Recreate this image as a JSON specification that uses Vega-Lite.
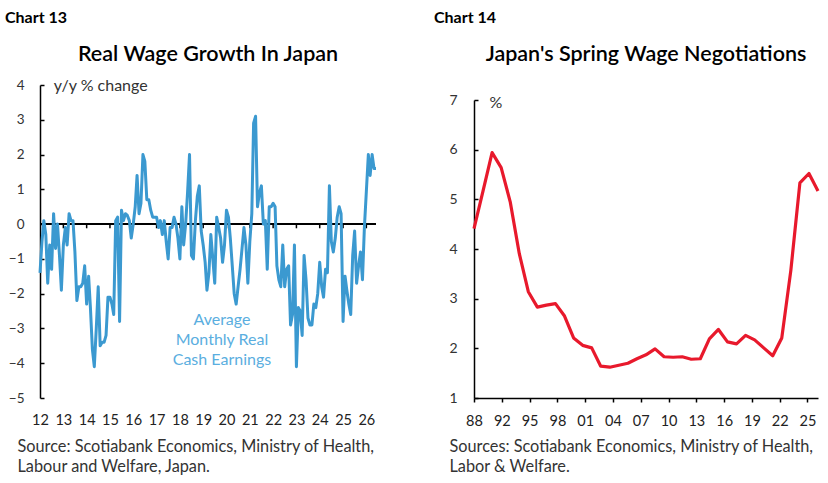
{
  "$schema": "https://vega.github.io/schema/vega-lite/v6.json",
  "padding": {"left": 5, "top": 9, "right": 5, "bottom": 5},
  "spacing": 56,
  "datasets": {
    "wages": [
      {"date": "2012-01", "v": -1.4}, {"date": "2012-02", "v": -0.5}, {"date": "2012-03", "v": 0.1}, {"date": "2012-04", "v": -0.3},
      {"date": "2012-05", "v": -1.7}, {"date": "2012-06", "v": -0.6}, {"date": "2012-07", "v": -1.3}, {"date": "2012-08", "v": 0.3},
      {"date": "2012-09", "v": -0.7}, {"date": "2012-10", "v": 0.0}, {"date": "2012-11", "v": -0.9}, {"date": "2012-12", "v": -1.9},
      {"date": "2013-01", "v": -0.6}, {"date": "2013-02", "v": -0.1}, {"date": "2013-03", "v": -0.6}, {"date": "2013-04", "v": 0.3},
      {"date": "2013-05", "v": 0.1}, {"date": "2013-06", "v": 0.1}, {"date": "2013-07", "v": -0.8}, {"date": "2013-08", "v": -2.2},
      {"date": "2013-09", "v": -1.8}, {"date": "2013-10", "v": -1.8}, {"date": "2013-11", "v": -1.7}, {"date": "2013-12", "v": -1.2},
      {"date": "2014-01", "v": -2.3}, {"date": "2014-02", "v": -1.5}, {"date": "2014-03", "v": -2.4}, {"date": "2014-04", "v": -3.6},
      {"date": "2014-05", "v": -4.1}, {"date": "2014-06", "v": -3.0}, {"date": "2014-07", "v": -1.8}, {"date": "2014-08", "v": -3.5},
      {"date": "2014-09", "v": -3.4}, {"date": "2014-10", "v": -3.4}, {"date": "2014-11", "v": -3.2}, {"date": "2014-12", "v": -2.1},
      {"date": "2015-01", "v": -2.1}, {"date": "2015-02", "v": -2.3}, {"date": "2015-03", "v": -2.6}, {"date": "2015-04", "v": 0.1},
      {"date": "2015-05", "v": 0.2}, {"date": "2015-06", "v": -2.8}, {"date": "2015-07", "v": 0.4}, {"date": "2015-08", "v": 0.1},
      {"date": "2015-09", "v": 0.3}, {"date": "2015-10", "v": 0.25}, {"date": "2015-11", "v": 0.1}, {"date": "2015-12", "v": -0.4},
      {"date": "2016-01", "v": 0.0}, {"date": "2016-02", "v": 0.5}, {"date": "2016-03", "v": 1.4}, {"date": "2016-04", "v": 0.3},
      {"date": "2016-05", "v": 0.6}, {"date": "2016-06", "v": 2.0}, {"date": "2016-07", "v": 1.8}, {"date": "2016-08", "v": 0.7},
      {"date": "2016-09", "v": 0.7}, {"date": "2016-10", "v": 0.4}, {"date": "2016-11", "v": 0.2}, {"date": "2016-12", "v": 0.2},
      {"date": "2017-01", "v": 0.2}, {"date": "2017-02", "v": -0.1}, {"date": "2017-03", "v": 0.1}, {"date": "2017-04", "v": -0.3},
      {"date": "2017-05", "v": 0.1}, {"date": "2017-06", "v": -0.5}, {"date": "2017-07", "v": -1.0}, {"date": "2017-08", "v": -0.1},
      {"date": "2017-09", "v": -0.1}, {"date": "2017-10", "v": 0.2}, {"date": "2017-11", "v": 0.0}, {"date": "2017-12", "v": -0.4},
      {"date": "2018-01", "v": -1.0}, {"date": "2018-02", "v": 0.5}, {"date": "2018-03", "v": -0.6}, {"date": "2018-04", "v": 0.0},
      {"date": "2018-05", "v": 0.9}, {"date": "2018-06", "v": 2.0}, {"date": "2018-07", "v": -0.9}, {"date": "2018-08", "v": -1.0},
      {"date": "2018-09", "v": 0.1}, {"date": "2018-10", "v": 0.8}, {"date": "2018-11", "v": 1.1}, {"date": "2018-12", "v": -0.2},
      {"date": "2019-01", "v": -0.6}, {"date": "2019-02", "v": -1.1}, {"date": "2019-03", "v": -1.9}, {"date": "2019-04", "v": -1.4},
      {"date": "2019-05", "v": -0.3}, {"date": "2019-06", "v": -1.0}, {"date": "2019-07", "v": -1.7}, {"date": "2019-08", "v": 0.2},
      {"date": "2019-09", "v": -0.1}, {"date": "2019-10", "v": -0.4}, {"date": "2019-11", "v": -1.1}, {"date": "2019-12", "v": -0.6},
      {"date": "2020-01", "v": 0.4}, {"date": "2020-02", "v": 0.2}, {"date": "2020-03", "v": -0.4}, {"date": "2020-04", "v": -1.2},
      {"date": "2020-05", "v": -2.0}, {"date": "2020-06", "v": -2.3}, {"date": "2020-07", "v": -1.8}, {"date": "2020-08", "v": -1.3},
      {"date": "2020-09", "v": -0.7}, {"date": "2020-10", "v": -0.1}, {"date": "2020-11", "v": -0.6}, {"date": "2020-12", "v": -1.7},
      {"date": "2021-01", "v": -0.5}, {"date": "2021-02", "v": 0.3}, {"date": "2021-03", "v": 2.9}, {"date": "2021-04", "v": 3.1},
      {"date": "2021-05", "v": 0.5}, {"date": "2021-06", "v": 0.9}, {"date": "2021-07", "v": 1.1}, {"date": "2021-08", "v": 0.0},
      {"date": "2021-09", "v": 0.1}, {"date": "2021-10", "v": -1.3}, {"date": "2021-11", "v": 0.5}, {"date": "2021-12", "v": 0.5},
      {"date": "2022-01", "v": 0.6}, {"date": "2022-02", "v": 0.5}, {"date": "2022-03", "v": -1.2}, {"date": "2022-04", "v": -1.6},
      {"date": "2022-05", "v": -1.8}, {"date": "2022-06", "v": -0.6}, {"date": "2022-07", "v": -1.8}, {"date": "2022-08", "v": -1.3},
      {"date": "2022-09", "v": -1.2}, {"date": "2022-10", "v": -2.9}, {"date": "2022-11", "v": -2.6}, {"date": "2022-12", "v": -0.6},
      {"date": "2023-01", "v": -4.1}, {"date": "2023-02", "v": -2.4}, {"date": "2023-03", "v": -2.5}, {"date": "2023-04", "v": -3.2},
      {"date": "2023-05", "v": -0.9}, {"date": "2023-06", "v": -1.6}, {"date": "2023-07", "v": -2.7}, {"date": "2023-08", "v": -2.9},
      {"date": "2023-09", "v": -2.9}, {"date": "2023-10", "v": -2.3}, {"date": "2023-11", "v": -2.4}, {"date": "2023-12", "v": -2.0},
      {"date": "2024-01", "v": -1.1}, {"date": "2024-02", "v": -1.8}, {"date": "2024-03", "v": -2.1}, {"date": "2024-04", "v": -1.3},
      {"date": "2024-05", "v": -1.4}, {"date": "2024-06", "v": 1.1}, {"date": "2024-07", "v": -0.5}, {"date": "2024-08", "v": -0.8},
      {"date": "2024-09", "v": -0.4}, {"date": "2024-10", "v": 0.2}, {"date": "2024-11", "v": 0.5}, {"date": "2024-12", "v": 0.3},
      {"date": "2025-01", "v": -2.8}, {"date": "2025-02", "v": -1.5}, {"date": "2025-03", "v": -1.9}, {"date": "2025-04", "v": -2.3},
      {"date": "2025-05", "v": -2.6}, {"date": "2025-06", "v": -0.9}, {"date": "2025-07", "v": -0.2}, {"date": "2025-08", "v": -1.7},
      {"date": "2025-09", "v": -1.2}, {"date": "2025-10", "v": -0.8}, {"date": "2025-11", "v": -1.6}, {"date": "2025-12", "v": -0.1},
      {"date": "2026-01", "v": 0.95}, {"date": "2026-02", "v": 2.0}, {"date": "2026-03", "v": 1.4}, {"date": "2026-04", "v": 2.0},
      {"date": "2026-05", "v": 1.6}, {"date": "2026-06", "v": 1.6}
    ],
    "yearTicks": [
      {"date": "2013-01"}, {"date": "2014-01"}, {"date": "2015-01"}, {"date": "2016-01"}, {"date": "2017-01"},
      {"date": "2018-01"}, {"date": "2019-01"}, {"date": "2020-01"}, {"date": "2021-01"}, {"date": "2022-01"},
      {"date": "2023-01"}, {"date": "2024-01"}, {"date": "2025-01"}, {"date": "2026-01"}
    ],
    "shunto": [
      {"year": 1988, "pct": 4.41}, {"year": 1989, "pct": 5.17}, {"year": 1990, "pct": 5.94}, {"year": 1991, "pct": 5.64},
      {"year": 1992, "pct": 4.95}, {"year": 1993, "pct": 3.91}, {"year": 1994, "pct": 3.14}, {"year": 1995, "pct": 2.83},
      {"year": 1996, "pct": 2.87}, {"year": 1997, "pct": 2.9}, {"year": 1998, "pct": 2.65}, {"year": 1999, "pct": 2.21},
      {"year": 2000, "pct": 2.06}, {"year": 2001, "pct": 2.01}, {"year": 2002, "pct": 1.64}, {"year": 2003, "pct": 1.62},
      {"year": 2004, "pct": 1.66}, {"year": 2005, "pct": 1.7}, {"year": 2006, "pct": 1.79}, {"year": 2007, "pct": 1.87},
      {"year": 2008, "pct": 1.99}, {"year": 2009, "pct": 1.83}, {"year": 2010, "pct": 1.82}, {"year": 2011, "pct": 1.83},
      {"year": 2012, "pct": 1.78}, {"year": 2013, "pct": 1.79}, {"year": 2014, "pct": 2.19}, {"year": 2015, "pct": 2.38},
      {"year": 2016, "pct": 2.13}, {"year": 2017, "pct": 2.09}, {"year": 2018, "pct": 2.26}, {"year": 2019, "pct": 2.17},
      {"year": 2020, "pct": 2.01}, {"year": 2021, "pct": 1.85}, {"year": 2022, "pct": 2.21}, {"year": 2023, "pct": 3.57},
      {"year": 2024, "pct": 5.33}, {"year": 2025, "pct": 5.52}, {"year": 2026, "pct": 5.17}
    ]
  },
  "hconcat": [
    {
      "title": {"text": "Chart 13", "anchor": "start", "frame": "group", "fontSize": 16, "fontWeight": "bold", "dx": -35, "offset": 18},
      "vconcat": [
        {
          "title": {"text": "Real Wage Growth In Japan", "fontSize": 21.5, "fontWeight": 600, "offset": 13},
          "width": 336,
          "height": 313,
          "layer": [
            {
              "data": {"values": [{}]},
              "mark": {"type": "rule", "color": "#000", "strokeWidth": 2},
              "encoding": {"y": {"datum": 0, "type": "quantitative"}}
            },
            {
              "data": {"name": "yearTicks"},
              "mark": {"type": "rule", "color": "#000", "strokeWidth": 1.5},
              "encoding": {
                "x": {"field": "date", "type": "temporal"},
                "y": {"datum": 0, "type": "quantitative"},
                "y2": {"datum": -0.12}
              }
            },
            {
              "data": {"name": "wages"},
              "mark": {"type": "line", "color": "#3b99d0", "strokeWidth": 3, "strokeJoin": "round"},
              "encoding": {
                "x": {
                  "field": "date", "type": "temporal",
                  "scale": {"type": "utc", "nice": false},
                  "axis": {
                    "title": ["Source: Scotiabank Economics, Ministry of Health,", "Labour and Welfare, Japan."],
                    "domain": false, "ticks": false, "format": "%y", "labelPadding": 15, "labelFontSize": 14.5, "labelColor": "#222",
                    "tickCount": {"interval": "year", "step": 1}, "labelOverlap": false, "labelFlush": false,
                    "titleX": -23, "titleY": 40, "titleAlign": "left", "titleAnchor": null, "titleBaseline": "top",
                    "titleFontSize": 16.3, "titleFontWeight": "normal", "titleColor": "#333", "titleLineHeight": 20
                  }
                },
                "y": {
                  "field": "v", "type": "quantitative",
                  "scale": {"domain": [-5, 4], "nice": false, "zero": false},
                  "axis": {
                    "values": [-5, -4, -3, -2, -1, 0, 1, 2, 3, 4], "tickCount": 20, "format": "d", "title": null,
                    "domainColor": "#000", "domainWidth": 1.5, "labelOverlap": false,
                    "tickSize": -4, "tickColor": "#000", "tickWidth": 1.5,
                    "labelPadding": 20, "labelFontSize": 13.5, "labelColor": "#333"
                  }
                }
              }
            },
            {
              "data": {"values": [{"date": "2019-10-22", "label": ["Average", "Monthly Real", "Cash Earnings"]}]},
              "mark": {"type": "text", "color": "#5aaee0", "fontSize": 16, "lineHeight": 20, "align": "center", "baseline": "middle"},
              "encoding": {
                "x": {"field": "date", "type": "temporal"},
                "y": {"datum": -2.75, "type": "quantitative"},
                "text": {"field": "label"}
              }
            },
            {
              "data": {"values": [{"date": "2012-08-05", "label": "y/y % change"}]},
              "mark": {"type": "text", "color": "#333", "fontSize": 16, "align": "left", "baseline": "middle"},
              "encoding": {
                "x": {"field": "date", "type": "temporal"},
                "y": {"datum": 3.97, "type": "quantitative"},
                "text": {"field": "label"}
              }
            }
          ]
        }
      ]
    },
    {
      "title": {"text": "Chart 14", "anchor": "start", "frame": "group", "fontSize": 16, "fontWeight": "bold", "dx": -40, "offset": 18},
      "vconcat": [
        {
          "title": {"text": "Japan's Spring Wage Negotiations", "fontSize": 21.5, "fontWeight": 600, "offset": 20},
          "width": 344,
          "height": 313,
          "layer": [
            {
              "data": {"name": "shunto"},
              "mark": {"type": "line", "color": "#e8192c", "strokeWidth": 3.2, "strokeJoin": "round"},
              "encoding": {
                "x": {
                  "field": "year", "type": "quantitative",
                  "scale": {"domain": [1988, 2026], "nice": false, "zero": false},
                  "axis": {
                    "values": [1988, 1991.07, 1994.14, 1997.21, 2000.28, 2003.35, 2006.42, 2009.49, 2012.56, 2015.63, 2018.7, 2021.77, 2024.84],
                    "tickCount": 30,
                    "labelExpr": "['88','92','95','98','01','04','07','10','13','16','19','22','25'][round((datum.value - 1988) / 3.07)]",
                    "domainColor": "#000", "domainWidth": 1.5,
                    "tickSize": 4, "tickColor": "#000", "tickWidth": 1.5,
                    "labelPadding": 12, "labelFontSize": 14.5, "labelColor": "#222", "labelOverlap": false, "labelFlush": false,
                    "title": ["Sources: Scotiabank Economics, Ministry of Health,", "Labor & Welfare."],
                    "titleX": -25, "titleY": 40, "titleAlign": "left", "titleAnchor": null, "titleBaseline": "top",
                    "titleFontSize": 16.3, "titleFontWeight": "normal", "titleColor": "#333", "titleLineHeight": 20
                  }
                },
                "y": {
                  "field": "pct", "type": "quantitative",
                  "scale": {"domain": [1, 7], "range": [313, 15], "nice": false, "zero": false},
                  "axis": {
                    "values": [1, 2, 3, 4, 5, 6, 7], "tickCount": 20, "format": "d", "title": null,
                    "domainColor": "#000", "domainWidth": 1.5, "labelOverlap": false,
                    "tickSize": -4, "tickColor": "#000", "tickWidth": 1.5,
                    "labelPadding": 21, "labelFontSize": 14, "labelColor": "#333"
                  }
                }
              }
            },
            {
              "data": {"values": [{"year": 1989.7, "label": "%"}]},
              "mark": {"type": "text", "color": "#333", "fontSize": 16, "align": "left", "baseline": "middle"},
              "encoding": {
                "x": {"field": "year", "type": "quantitative"},
                "y": {"datum": 6.93, "type": "quantitative"},
                "text": {"field": "label"}
              }
            }
          ]
        }
      ]
    }
  ],
  "config": {
    "font": "Lato",
    "view": {"stroke": null},
    "axis": {"grid": false, "labelOverlap": false},
    "title": {"color": "#000"}
  }
}
